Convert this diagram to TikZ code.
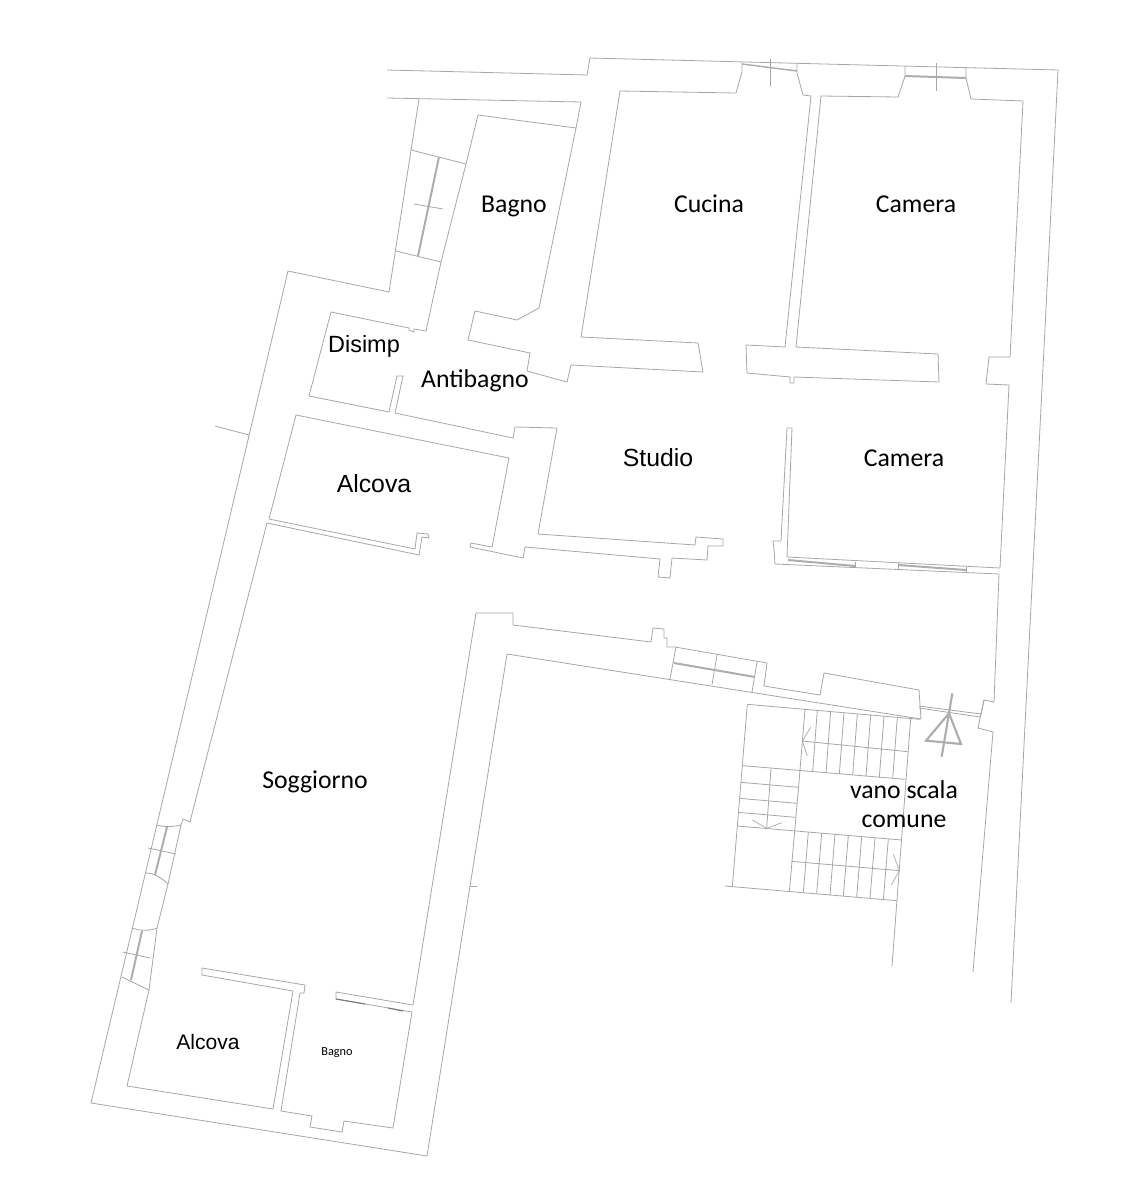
\documentclass[tikz,border=0pt]{standalone}
\usepackage{fontspec}
\setmainfont{Carlito}
\newfontfamily\arialf{Liberation Sans}
\definecolor{wallgrey}{HTML}{A6A6A6}
\definecolor{darkgrey}{HTML}{777777}
\definecolor{glassgrey}{HTML}{ADADAD}
\tikzset{
  wall/.style={draw=wallgrey,line width=0.6pt,line join=miter},
  darkwall/.style={draw=darkgrey,line width=0.8pt},
  glass/.style={draw=glassgrey,line width=1.5pt},
  thin/.style={draw=wallgrey,line width=0.5pt},
  sign/.style={draw=glassgrey,line width=1.6pt},
  label/.style={font=\fontsize{19.3pt}{21.75pt}\selectfont,text=black,inner sep=0pt,anchor=base},
  alabel/.style={font=\arialf\fontsize{18.6pt}{21pt}\selectfont,text=black,inner sep=0pt,anchor=base},
}
\begin{document}
\begin{tikzpicture}[x=0.75pt,y=-0.75pt]
\useasboundingbox (0,0) rectangle (1138,1185);
% outer shell
\draw[wall] (387,70)--(587,75)--(590,58)--(1058,70)--(1011,1003);
\draw[wall] (387,98)--(581,102)--(576,128);
\draw[wall] (478,115)--(576,128)--(539,308)--(517,320)--(475,311)--(468,340)--(530,353)--(527,371)--(567,382)--(571,365)--(703,372)--(698,343)--(581,337)--(620,91)--(736,93)--(742,72)--(742,63);
\draw[wall] (478,115)--(466,164)--(441,262)--(426,331)--(414,329)--(414,332)--(409,330)--(409,328)--(331,312)--(309,396)--(389,412)--(397,376)--(403,376)--(395,413)--(513,438)--(515,427)--(557,428)--(538,534)--(695,545)--(696,537)--(723,539)--(723,546)--(708,546)--(707,560)--(672,558)--(670,578)--(658,577)--(660,559)--(525,547)--(523,558)--(470,547)--(471,543)--(492,547)--(509,458)--(296,415)--(269,519)--(415,549)--(417,533)--(428,534)--(429,538)--(422,537)--(419,555)--(267,523)--(193,810)--(190,822)--(183,819)--(181,825);
\draw[wall] (419,99)--(389,292)--(288,271)--(91,1103)--(427,1156)--(507,654)--(921,719)--(919,690)--(824,673)--(820,695)--(764,686)--(767,663)--(675,647)--(667,647)--(667,638)--(664,638)--(664,629)--(653,628)--(651,642)--(513,625)--(513,613)--(476,613)--(413,1005)--(336,992)--(336,999)--(412,1012)--(393,1128)--(344,1121)--(342,1132)--(310,1127)--(312,1116)--(281,1111)--(300,993)--(304,993)--(305,985)--(202,968)--(202,975)--(293,991)--(273,1109)--(127,1086)--(149,990)--(122,977);
\draw[darkwall] (336,999)--(365,1004) (388,1008)--(403,1011);
% top windows and piers
\draw[wall] (797,63)--(797,73)--(803,95)--(811,96)--(785,347)--(746,345)--(747,373)--(790,377)--(790,383)--(794,383)--(794,377)--(939,382)--(938,354)--(796,347)--(821,96)--(898,97)--(905,76)--(905,66);
\draw[wall] (966,67)--(966,78)--(971,99)--(1023,101)--(1010,357)--(989,357)--(986,384)--(1009,385)--(1000,568);
\draw[wall] (999,574)--(994,702)--(984,700)--(978,728)--(993,732)--(973,972);
\draw[glass,line width=1.1pt] (742,64)--(797,71);
\draw[glass] (905,76)--(966,78);
\draw[thin] (770,59)--(770,86) (936,63)--(936,91);
% upper-left window
\draw[wall] (411,150)--(466,164) (396,251)--(441,262) (414,204)--(443,209);
\draw[glass] (439,157)--(418,256);
% camera south wall
\draw[wall] (787,428)--(792,428)--(787,557)--(1000,568);
\draw[wall] (787,428)--(781,541)--(773,541)--(774,549)--(775,564)--(999,574);
\draw[glass] (788,560)--(855,566) (898,565)--(966,570);
\draw[wall] (855,562)--(855,568) (898,563)--(898,570) (966,567)--(966,573);
% courtyard wall window
\draw[wall] (676,647)--(670,679) (757,662)--(752,692) (717,655)--(712,685);
\draw[glass] (674,663)--(755,677);
% entrance door
\draw[wall] (919,706)--(981,714)--(980,717)--(919,708);
\draw[wall] (981,714)--(984,700);
% west wall windows
\draw[wall] (181,825)--(168,884)--(157,928)--(149,990);
\draw[wall] (157,825) .. controls (163,827) and (173,827) .. (181,825);
\draw[wall] (146,873) .. controls (154,873) and (162,878) .. (168,884);
\draw[wall] (132,928) .. controls (140,931) and (150,931) .. (157,928);
\draw[wall] (148,848)--(176,854) (123,952)--(150,958);
\draw[glass] (167,827)--(155,875) (142,931)--(131,980);
% stub
\draw[wall] (215,426)--(249,435);
\draw[thin] (470,886)--(477,886);
% stairs
\begin{scope}[shift={(720,690)},x=0.25pt,y=-0.25pt]
\draw[wall] (82,43)--(600,88);
\draw[wall] (82,43)--(37,590) (15,588)--(530,632);
\draw[wall] (572,85)--(516,828);
\foreach \a/\b/\c/\d in {255/57/240/240,292/60/278/245,332/63/318/249,372/67/358/252,412/71/398/256,452/74/438/259,492/78/478/262,532/82/518/265}
  \draw[wall] (\a,\b)--(\c,\d);
\draw[wall] (68,227)--(556,268) (247,153)--(563,185);
\draw[thin] (272,112)--(247,153)--(262,198);
\draw[wall] (63,277)--(235,292) (58,325)--(231,340) (55,367)--(227,382) (52,408)--(545,450);
\draw[wall] (153,235)--(140,415) (240,242)--(208,605);
\draw[thin] (97,390)--(140,415)--(185,398);
\foreach \a/\b/\c/\d in {265/426/250/608,305/429/290/611,345/433/330/615,385/436/370/618,425/440/410/622,465/443/450/625,505/447/490/629}
  \draw[wall] (\a,\b)--(\c,\d);
\draw[wall] (215,514)--(538,542);
\draw[thin] (520,493)--(538,542)--(514,585);
% north sign
\draw[sign] (687,70)--(618,152)--(723,162)--cycle;
\draw[sign] (697,10)--(665,200);
\end{scope}
% labels
\node[label] (bagnoA) at (514,212) {Bagno};
\node[label] (cucina) at (709,212) {Cucina};
\node[label] (cameraA) at (916,212) {Camera};
\node[alabel,font=\arialf\fontsize{17.6pt}{21pt}\selectfont] (disimp) at (364,352) {Disimp};
\node[label] (antibagno) at (475,387) {Antibagno};
\node[alabel] (studio) at (658,466) {Studio};
\node[label] (cameraB) at (904,466) {Camera};
\node[alabel] (alcovaA) at (374,492) {Alcova};
\node[label] (soggiorno) at (315,788) {Soggiorno};
\node[label] (vanoA) at (904,798) {vano scala};
\node[label] (vanoB) at (904,827) {comune};
\node[alabel,font=\arialf\fontsize{15.8pt}{19pt}\selectfont] (alcovaB) at (208,1049) {Alcova};
\node[font=\fontsize{9.2pt}{11pt}\selectfont,inner sep=0pt,anchor=base] (bagnoB) at (337,1055) {Bagno};
\end{tikzpicture}
\end{document}
